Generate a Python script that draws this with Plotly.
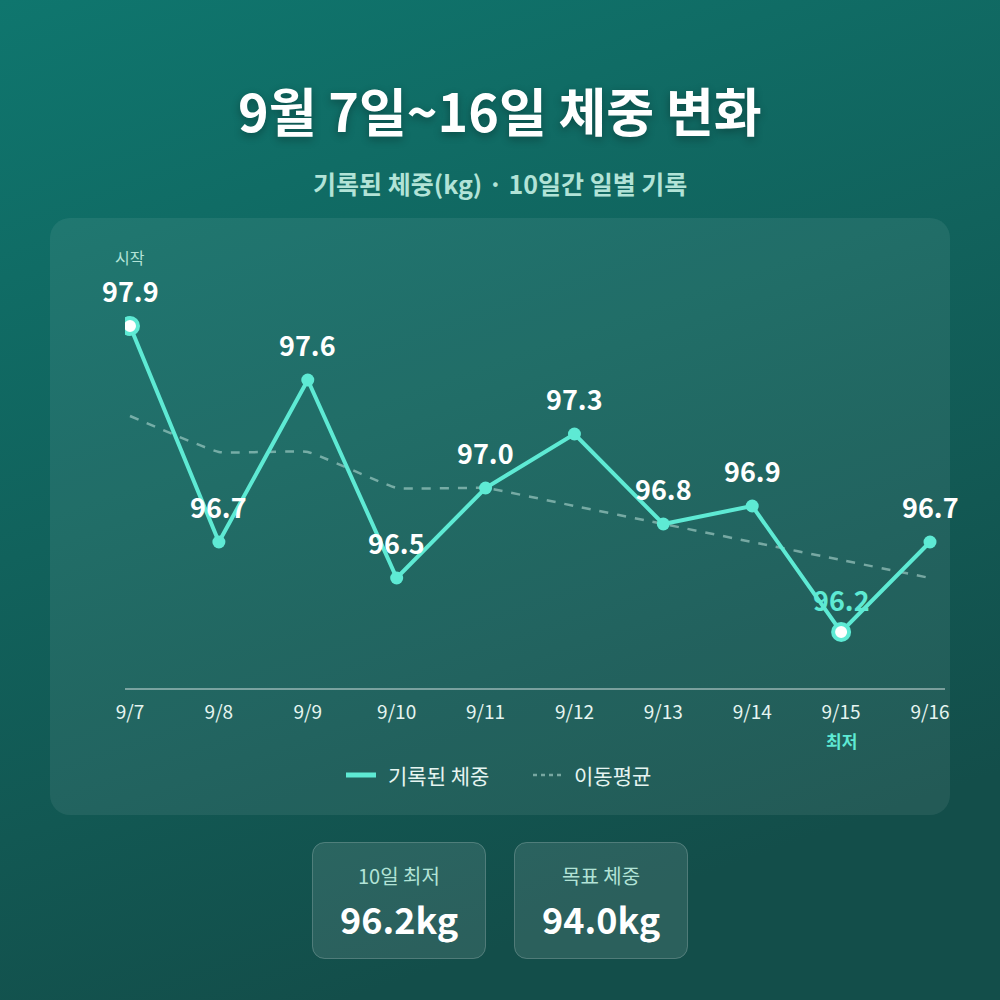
import base64
import plotly.graph_objects as go

# ---- data ----
dates = ["9/7", "9/8", "9/9", "9/10", "9/11", "9/12", "9/13", "9/14", "9/15", "9/16"]
weights = [97.9, 96.7, 97.6, 96.5, 97.0, 97.3, 96.8, 96.9, 96.2, 96.7]
moving_avg = [97.4, 97.2, 97.2, 97.0, 97.0, 96.9, 96.8, 96.7, 96.6, 96.5]
goal_weight = 94.0
series_names = ["기록된 체중", "이동평균"]

FONT = "Noto Sans CJK KR"
TEAL = "#5eead4"
LIGHT = "#b2e3d7"
MA_COLOR = "rgba(190,225,218,0.55)"

W, H = 1000, 1000
# plot area in pixels
PL, PR, PT, PB = 125, 945, 250, 688
PW, PH = PR - PL, PB - PT


def px(x):
    return (x - PL) / PW


def py(y):
    return (PB - y) / PH


idx = list(range(len(dates)))
xr = [(PL - 130) / 88.889, (PR - 130) / 88.889]
ymin_val = 97.9 - (PB - 326) / 180.0
ymax_val = 97.9 + (326 - PT) / 180.0

# background svg (gradient, panel, cards)
svg = f'''<svg xmlns="http://www.w3.org/2000/svg" width="{W}" height="{H}" viewBox="0 0 {W} {H}">
<defs><linearGradient id="g" x1="0" y1="0" x2="0.35" y2="1">
<stop offset="0" stop-color="#0f766e"/><stop offset="1" stop-color="#134e4a"/></linearGradient></defs>
<rect width="{W}" height="{H}" fill="url(#g)"/>
<rect x="50" y="218" width="900" height="597" rx="20" fill="rgba(255,255,255,0.07)"/>
<rect x="312.5" y="842.5" width="173" height="116" rx="12" fill="rgba(255,255,255,0.10)" stroke="rgba(255,255,255,0.22)" stroke-width="1"/>
<rect x="514.5" y="842.5" width="173" height="116" rx="12" fill="rgba(255,255,255,0.10)" stroke="rgba(255,255,255,0.22)" stroke-width="1"/>
</svg>'''
bg_uri = "data:image/svg+xml;base64," + base64.b64encode(svg.encode()).decode()

fig = go.Figure()

# moving average
fig.add_trace(go.Scatter(
    x=idx, y=moving_avg, mode="lines", name=series_names[1],
    line=dict(color=MA_COLOR, width=2.5, dash="dash", shape="spline", smoothing=0.3),
    hoverinfo="skip", showlegend=False,
))
# main line
fig.add_trace(go.Scatter(
    x=idx, y=weights, mode="lines+markers", name=series_names[0],
    line=dict(color=TEAL, width=4),
    marker=dict(size=13, color=TEAL),
    showlegend=False,
))
# special points: start and min
min_i = weights.index(min(weights))
special = [0, min_i]
fig.add_trace(go.Scatter(
    x=special, y=[weights[i] for i in special], mode="markers",
    marker=dict(size=16, color="white", line=dict(color=TEAL, width=4)),
    showlegend=False, hoverinfo="skip",
))


def ann(x, y, text, size, color, xref="paper", yref="paper", yshift=0, shadow=None, xanchor="center"):
    f = dict(family=FONT, size=size, color=color)
    if shadow:
        f["shadow"] = shadow
    return dict(x=x, y=y, xref=xref, yref=yref, text=text, showarrow=False,
                xanchor=xanchor, yanchor="middle", yshift=yshift, font=f)


annotations = []
for i, w in enumerate(weights):
    is_min = i == min_i
    annotations.append(ann(i, w, f"<b>{w:.1f}</b>", 27, TEAL if is_min else "white",
                           xref="x", yref="y", yshift=36 if not is_min else 33))
annotations.append(ann(0, weights[0], "시작", 16, LIGHT, xref="x", yref="y", yshift=69))
annotations.append(ann(min_i, py(740), "<b>최저</b>", 17, TEAL, xref="x"))

# title & subtitle
annotations.append(ann(px(500), py(110), "<b>9월 7일~16일 체중 변화</b>", 52, "white",
                       shadow="0px 3px 8px rgba(0,0,0,0.3)"))
annotations.append(ann(px(500), py(183), "<b>기록된 체중(kg) · 10일간 일별 기록</b>", 25, LIGHT))

# manual legend
shapes = [
    dict(type="line", xref="paper", yref="paper", x0=px(346), x1=px(376), y0=py(775), y1=py(775),
         line=dict(color=TEAL, width=5)),
    dict(type="line", xref="paper", yref="paper", x0=px(533), x1=px(563), y0=py(775), y1=py(775),
         line=dict(color=MA_COLOR, width=2.5, dash="4px,4px")),
]
annotations.append(ann(px(386), py(775), series_names[0], 21, "#e6f5f1", xanchor="left"))
annotations.append(ann(px(572), py(775), series_names[1], 21, "#e6f5f1", xanchor="left"))

# cards
cards = [("10일 최저", f"{min(weights):.1f}kg", 399), ("목표 체중", f"{goal_weight:.1f}kg", 601)]
for label, val, cx in cards:
    annotations.append(ann(px(cx), py(875), label, 20, LIGHT))
    annotations.append(ann(px(cx), py(918), f"<b>{val}</b>", 36, "white"))

fig.update_layout(
    width=W, height=H, autosize=False,
    margin=dict(l=PL, r=W - PR, t=PT, b=H - PB, pad=0),
    paper_bgcolor="#134e4a", plot_bgcolor="rgba(0,0,0,0)",
    font=dict(family=FONT, color="#e6f5f1"),
    images=[dict(source=bg_uri, xref="paper", yref="paper", x=px(0), y=py(0),
                 sizex=W / PW, sizey=H / PH, xanchor="left", yanchor="top",
                 sizing="stretch", layer="below")],
    xaxis=dict(range=xr, tickvals=idx, ticktext=dates, showgrid=False, zeroline=False,
               showline=True, linecolor="rgba(255,255,255,0.4)", linewidth=2,
               ticks="outside", ticklen=6, tickcolor="rgba(0,0,0,0)",
               tickfont=dict(family=FONT, size=19, color="#e6f5f1"), fixedrange=True),
    yaxis=dict(range=[ymin_val, ymax_val], visible=False, fixedrange=True),
    showlegend=False,
    shapes=shapes,
    annotations=annotations,
    hovermode=False,
)

fig.write_html("out.html", config={"displayModeBar": False},
               post_script="document.body.style.margin='0';")
